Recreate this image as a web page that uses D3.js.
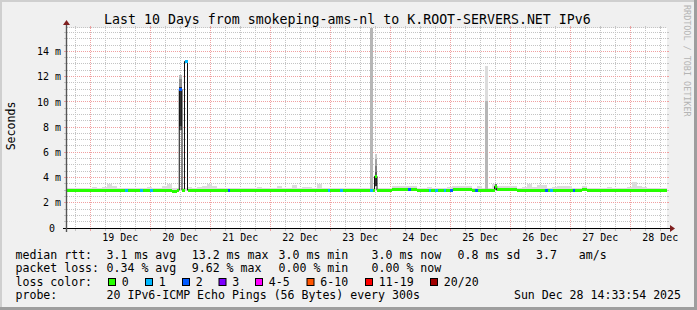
<!DOCTYPE html>
<html>
<head>
<meta charset="utf-8">
<script src="https://cdn.jsdelivr.net/npm/d3@7"></script>
<style>
  html, body { margin: 0; padding: 0; background: #f0f0f0; }
  svg { display: block; font-family: "DejaVu Sans Mono", monospace; }
</style>
</head>
<body>
<div id="chart"></div>
<script>
// smokeping style graph: last 10 days, median rtt coloured by packet loss
var startTime = Date.UTC(2025, 11, 18, 14, 33, 54);
var endTime   = Date.UTC(2025, 11, 28, 14, 33, 54);
var slotHours = 2;   // one value per 2 hours in the arrays below

// median rtt in ms, one per slot
var medianMs = [
  3.0, 3.0, 3.0, 3.0, 2.95, 2.95, 2.95, 2.95, 3.0, 3.0,
  3.0, 3.0, 3.0, 3.0, 3.0, 3.0, 3.0, 3.0, 2.95, 2.95,
  3.0, 2.9, 3.0, 3.0, 3.0, 3.0, 3.0, 3.0, 3.0, 3.0,
  3.0, 2.95, 3.0, 3.0, 3.0, 2.95, 2.95, 2.95, 3.0, 3.0,
  3.0, 3.0, 3.0, 3.0, 3.0, 3.0, 3.0, 3.0, 2.95, 2.95,
  3.0, 3.0, 3.0, 3.0, 3.0, 3.0, 3.0, 3.0, 2.95, 2.95,
  3.0, 3.0, 3.0, 3.0, 3.0, 3.08, 3.08, 3.08, 3.08, 3.08,
  3.0, 3.0, 3.0, 3.0, 3.0, 3.0, 3.0, 3.08, 3.08, 3.08,
  3.08, 3.0, 3.0, 3.0, 3.0, 3.0, 3.08, 3.08, 3.08, 3.08,
  3.0, 3.0, 3.0, 3.0, 3.0, 3.0, 3.0, 3.0, 3.0, 3.0,
  3.0, 3.0, 3.0, 3.08, 3.0, 3.0, 3.0, 3.0, 3.0, 3.0,
  3.0, 3.0, 3.0, 3.0, 3.0, 3.0, 3.0, 3.0, 3.0, 3.0
];

// slowest ping of each slot (top of the smoke), ms
var smokeTopMs = [
  3.2, 3.15, 3.15, 3.2, 3.2, 3.25, 3.2, 3.25, 3.5, 3.3,
  3.2, 3.15, 3.2, 3.2, 3.15, 3.2, 3.25, 3.2, 3.2, 3.3,
  3.45, 3.2, 3.2, 3.2, 3.25, 3.2, 3.25, 3.3, 3.5, 3.3,
  3.2, 3.15, 3.2, 3.15, 3.2, 3.15, 3.2, 3.2, 3.25, 3.2,
  3.15, 3.2, 3.3, 3.2, 3.2, 3.4, 3.2, 3.25, 3.25, 3.15,
  3.5, 3.2, 3.15, 3.2, 3.15, 3.2, 3.15, 3.2, 3.15, 3.2,
  3.2, 3.2, 3.15, 3.2, 3.2, 3.3, 3.3, 3.3, 3.3, 3.3,
  3.2, 3.2, 3.25, 3.2, 3.2, 3.2, 3.25, 3.3, 3.3, 3.3,
  3.3, 3.2, 3.3, 3.2, 3.2, 3.45, 3.3, 3.3, 3.3, 3.3,
  3.2, 3.25, 3.5, 3.25, 3.4, 3.4, 3.2, 3.25, 3.3, 3.3,
  3.3, 3.2, 3.2, 3.3, 3.2, 3.2, 3.2, 3.2, 3.25, 3.2,
  3.2, 3.2, 3.25, 3.65, 3.3, 3.25, 3.2, 3.2, 3.2, 3.2
];
var smokeBottomMs = 2.9;

// short periods with lost pings: [hour from start, duration h, lost of 20]
var lossEvents = [
  [23.2, 1.2, 1], [29.2, 1.2, 1], [33.2, 1.2, 1], [64.4, 0.9, 2],
  [104.4, 0.9, 1], [109.2, 1.2, 1], [136.4, 1.0, 2], [144.8, 0.9, 1],
  [147.2, 1.2, 1], [150.8, 0.9, 1], [153.2, 1.1, 2], [163.2, 1.1, 2],
  [191.2, 1.0, 2], [193.0, 1.2, 1], [202.3, 1.0, 2]
];

// spikes: smoke = [low ms, high ms, ping band 1 (outer) .. 10 (inner)]
var spikes = [
  {hour: 44.9, dur: 1.1, median: 11.0, loss: 2,
   smoke: [[7.8, 8.1, 7], [8.1, 11.2, 10], [11.2, 11.8, 5], [11.8, 12.15, 3]]},
  {hour: 47.0, dur: 1.2, median: 13.2, loss: 1, smoke: []},
  {hour: 121.2, dur: 1.2, median: 3.0, loss: 1, smoke: [[3.0, 20.0, 3]]},
  {hour: 123.0, dur: 1.0, median: 4.1, loss: 0,
   smoke: [[3.3, 4.1, 10], [4.1, 4.4, 8], [4.4, 4.9, 6], [4.9, 5.5, 4], [5.5, 5.85, 2]]},
  {hour: 167.2, dur: 1.2, median: 3.0, loss: 0, smoke: [[3.1, 10.05, 3], [10.05, 12.8, 1]]},
  {hour: 171.0, dur: 0.9, median: 3.3, loss: 0, smoke: [[3.05, 3.45, 7]]}
];

var lossLabels = ["0", "1", "2", "3", "4-5", "6-10", "11-19", "20/20"];
var lossColors = ["#26ff00", "#00b8ff", "#0059ff", "#7e00ff", "#ff00ff", "#ff5500", "#ff0000", "#a10000"];

var rttStats  = [["avg", 3.1], ["max", 13.2], ["min", 3.0], ["now", 3.0], ["sd", 0.8]];
var rttAmS    = 3.7;
var lossStats = [["avg", 0.34], ["max", 9.62], ["min", 0.00], ["now", 0.00]];

var title = "Last 10 Days from smokeping-ams-nl to K.ROOT-SERVERS.NET IPv6";
var probeText = "20 IPv6-ICMP Echo Pings (56 Bytes) every 300s";
var stampText = "Sun Dec 28 14:33:54 2025";

// ---- layout
var W = 697, H = 310;
var plotL = 67, plotR = 667, plotT = 28, plotB = 228;
var gridCol = "#c4c4c4", mgridCol = "#f0a0a0";

var x = d3.scaleUtc()
    .domain([new Date(startTime), new Date(endTime)])
    .range([plotL, plotR]);
var y = d3.scaleLinear()
    .domain([0, 15.85])
    .range([plotB, plotT]);

function hx(h) { return x(new Date(startTime + h * 3600e3)); }
function lossIndex(l) {
    if (l <= 3) return l;
    if (l <= 5) return 4;
    if (l <= 10) return 5;
    if (l <= 19) return 6;
    return 7;
}
function smokeColor(band) {
    var g = Math.round(220 - (band - 1) * 170 / 9);
    return d3.rgb(g, g, g).toString();
}
function crisp(v) { return Math.floor(v) + 0.5; }

var svg = d3.select("#chart").append("svg")
    .attr("width", W)
    .attr("height", H);

// font size that gives a wanted monospace advance (px per char)
var probe = svg.append("text").attr("font-size", 100).text("MMMMMMMMMM");
var emAdvance = probe.node().getComputedTextLength() / 1000;
probe.remove();
function fs(advance) { return advance / emAdvance; }

// background + 3d border
svg.append("rect").attr("width", W).attr("height", H).attr("fill", "#f0f0f0");
svg.append("rect").attr("width", W).attr("height", 2).attr("fill", "#cfcfcf");
svg.append("rect").attr("width", 2).attr("height", H).attr("fill", "#cfcfcf");
svg.append("rect").attr("y", H - 3).attr("width", W).attr("height", 3).attr("fill", "#9e9e9e");
svg.append("rect").attr("x", W - 3).attr("width", 3).attr("height", H).attr("fill", "#9e9e9e");

svg.append("rect")
    .attr("x", plotL).attr("y", plotT)
    .attr("width", plotR - plotL).attr("height", plotB - plotT)
    .attr("fill", "#fff");

// ---- grid
var yMajor = d3.range(2, 15, 2);
var yMinor = d3.range(0.5, 15.85, 0.5).filter(function(v) { return v % 2 !== 0; });
var xMajor = d3.utcDay.range(new Date(startTime), new Date(endTime));
var xMinor = d3.utcHour.every(6).range(new Date(startTime), new Date(endTime))
    .filter(function(d) { return d.getUTCHours() !== 0; });

var grid = svg.append("g").attr("fill", "none").attr("stroke-dasharray", "1,1");

function hLines(vals, col) {
    grid.selectAll(null).data(vals).enter().append("line")
        .attr("x1", plotL).attr("x2", plotR)
        .attr("y1", function(d) { return crisp(y(d)); })
        .attr("y2", function(d) { return crisp(y(d)); })
        .attr("stroke", col);
    svg.selectAll(null).data(vals).enter().append("path")
        .attr("d", function(d) {
            var yy = crisp(y(d));
            return "M" + (plotL - 3) + "," + yy + "H" + (plotL - 1) + "M" + plotR + "," + yy + "H" + (plotR + 2);
        })
        .attr("stroke", col);
}
function vLines(vals, col) {
    grid.selectAll(null).data(vals).enter().append("line")
        .attr("y1", plotT).attr("y2", plotB)
        .attr("x1", function(d) { return crisp(x(d)); })
        .attr("x2", function(d) { return crisp(x(d)); })
        .attr("stroke", col);
    svg.selectAll(null).data(vals).enter().append("path")
        .attr("d", function(d) {
            var xx = crisp(x(d));
            return "M" + xx + "," + (plotT - 2) + "V" + plotT + "M" + xx + "," + (plotB + 1) + "V" + (plotB + 3);
        })
        .attr("stroke", col);
}
hLines(yMinor, gridCol);
vLines(xMinor, gridCol);
hLines(yMajor, mgridCol);
vLines(xMajor, mgridCol);
grid.append("line").attr("x1", plotL).attr("x2", plotR)
    .attr("y1", plotT - 0.5).attr("y2", plotT - 0.5).attr("stroke", gridCol);

// ---- data
svg.append("clipPath").attr("id", "plotclip")
    .append("rect").attr("x", plotL).attr("y", plotT)
    .attr("width", plotR - plotL).attr("height", plotB - plotT);
var plot = svg.append("g").attr("clip-path", "url(#plotclip)");

// baseline smoke
plot.selectAll(null).data(smokeTopMs).enter().append("rect")
    .attr("x", function(d, i) { return hx(i * slotHours); })
    .attr("width", function(d, i) { return hx((i + 1) * slotHours) - hx(i * slotHours); })
    .attr("y", function(d) { return y(d); })
    .attr("height", function(d) { return y(smokeBottomMs) - y(d); })
    .attr("fill", smokeColor(1))
    .attr("shape-rendering", "crispEdges");

// spike smoke
spikes.forEach(function(s) {
    plot.selectAll(null).data(s.smoke).enter().append("rect")
        .attr("x", hx(s.hour))
        .attr("width", hx(s.hour + s.dur) - hx(s.hour))
        .attr("y", function(d) { return y(d[1]); })
        .attr("height", function(d) { return y(d[0]) - y(d[1]); })
        .attr("fill", function(d) { return smokeColor(d[2]); })
        .attr("shape-rendering", "crispEdges");
});

// median segments, overlaid by loss events and spikes
var segs = medianMs.map(function(m, i) {
    return {t0: i * slotHours, t1: (i + 1) * slotHours, med: m, loss: 0};
});
function overlay(list, ev) {
    var out = [];
    list.forEach(function(s) {
        if (s.t1 <= ev.t0 || s.t0 >= ev.t1) { out.push(s); return; }
        if (s.t0 < ev.t0) out.push({t0: s.t0, t1: ev.t0, med: s.med, loss: s.loss});
        if (s.t1 > ev.t1) out.push({t0: ev.t1, t1: s.t1, med: s.med, loss: s.loss});
    });
    out.push(ev);
    return out.sort(function(a, b) { return a.t0 - b.t0; });
}
lossEvents.forEach(function(e) {
    segs = overlay(segs, {t0: e[0], t1: e[0] + e[1],
        med: medianMs[Math.floor(e[0] / slotHours)], loss: e[2]});
});
spikes.forEach(function(s) {
    segs = overlay(segs, {t0: s.hour, t1: s.hour + s.dur, med: s.median, loss: s.loss});
});

var pts = segs.map(function(s) { return [s.t0, s.med]; });
pts.push([segs[segs.length - 1].t1, segs[segs.length - 1].med]);
var stepLine = d3.line()
    .x(function(d) { return hx(d[0]); })
    .y(function(d) { return y(d[1]); })
    .curve(d3.curveStepAfter);
plot.append("path")
    .attr("d", stepLine(pts))
    .attr("fill", "none")
    .attr("stroke", "#111")
    .attr("stroke-width", 1);

plot.selectAll(null).data(segs).enter().append("rect")
    .attr("x", function(d) { return hx(d.t0); })
    .attr("width", function(d) { return hx(d.t1) - hx(d.t0); })
    .attr("y", function(d) { return y(d.med) - 1.5; })
    .attr("height", 3)
    .attr("fill", function(d) { return lossColors[lossIndex(d.loss)]; })
    .attr("shape-rendering", "crispEdges");

// ---- axes
var axisFont = fs(6.0);
var yAxis = d3.axisLeft(y)
    .tickValues(d3.range(0, 15, 2))
    .tickFormat(function(d) { return d === 0 ? "0\u00a0" : d + "\u00a0m"; })
    .tickSize(0).tickPadding(0);
svg.append("g")
    .attr("transform", "translate(61,0)")
    .call(yAxis)
    .call(function(g) { g.select(".domain").remove(); })
    .attr("font-family", "DejaVu Sans Mono, monospace")
    .attr("font-size", axisFont)
    .selectAll("text").attr("fill", "#000");

var noons = xMajor.map(function(d) { return d3.utcHour.offset(d, 12); })
    .filter(function(d) { return d < endTime; });
var xAxis = d3.axisBottom(x)
    .tickValues(noons)
    .tickFormat(d3.utcFormat("%d %b"))
    .tickSize(0).tickPadding(6);
svg.append("g")
    .attr("transform", "translate(-0.8," + plotB + ")")
    .call(xAxis)
    .call(function(g) { g.select(".domain").remove(); })
    .attr("font-family", "DejaVu Sans Mono, monospace")
    .attr("font-size", axisFont)
    .selectAll("text").attr("fill", "#000");

// axis lines with arrows
svg.append("line")
    .attr("x1", plotL - 4).attr("x2", plotR + 4)
    .attr("y1", plotB + 0.5).attr("y2", plotB + 0.5)
    .attr("stroke", "#000");
svg.append("line")
    .attr("x1", plotL - 0.5).attr("x2", plotL - 0.5)
    .attr("y1", plotB + 4).attr("y2", plotT - 4)
    .attr("stroke", "#555").attr("stroke-width", 1.4);
svg.append("path")
    .attr("d", "M" + (plotR + 3) + "," + (plotB - 3) + "L" + (plotR + 8) + "," + (plotB + 0.5) +
               "L" + (plotR + 3) + "," + (plotB + 4) + "Z")
    .attr("fill", "#7f1f1f");
svg.append("path")
    .attr("d", "M" + (plotL - 4) + "," + (plotT - 3) + "L" + (plotL - 0.5) + "," + (plotT - 8) +
               "L" + (plotL + 3) + "," + (plotT - 3) + "Z")
    .attr("fill", "#7f1f1f");

// ---- texts
svg.append("text")
    .attr("x", 347.4).attr("y", 24)
    .attr("text-anchor", "middle")
    .attr("font-size", fs(7.98))
    .text(title);

var legFont = fs(6.97);
svg.append("text")
    .attr("transform", "translate(15,126)rotate(-90)")
    .attr("text-anchor", "middle")
    .attr("font-size", legFont)
    .text("Seconds");

svg.append("text")
    .attr("transform", "translate(684,5)rotate(90)")
    .attr("font-size", fs(5.08))
    .attr("fill", "#b4b4b4")
    .text("RRDTOOL / TOBI OETIKER");

var leg = svg.append("g").attr("font-size", legFont).attr("fill", "#000");
var rowY = [258.5, 272, 285.5, 299];
var colX = [106.6, 191.8, 278.6, 371.6, 457.6];

leg.append("text").attr("x", 15.5).attr("y", rowY[0]).text("median rtt:");
leg.selectAll(null).data(rttStats).enter().append("text")
    .attr("x", function(d, i) { return colX[i]; })
    .attr("y", rowY[0])
    .text(function(d) { return d[1].toFixed(1) + " ms " + d[0]; });
leg.append("text").attr("x", 536).attr("y", rowY[0]).text(rttAmS.toFixed(1));
leg.append("text").attr("x", 578.8).attr("y", rowY[0]).text("am/s");

leg.append("text").attr("x", 15.5).attr("y", rowY[1]).text("packet loss:");
leg.selectAll(null).data(lossStats).enter().append("text")
    .attr("x", function(d, i) { return colX[i]; })
    .attr("y", rowY[1])
    .text(function(d) { return d[1].toFixed(2) + " % " + d[0]; });

leg.append("text").attr("x", 15.5).attr("y", rowY[2]).text("loss color:");
var boxX = [108.5, 145.5, 182.5, 219, 255.5, 307, 365.5, 430.5];
var items = leg.selectAll(null).data(lossLabels).enter().append("g")
    .attr("transform", function(d, i) { return "translate(" + boxX[i] + "," + (rowY[2] - 7) + ")"; });
items.append("rect")
    .attr("width", 7).attr("height", 7)
    .attr("fill", function(d, i) { return lossColors[i]; })
    .attr("stroke", "#000");
items.append("text")
    .attr("x", 13.3).attr("y", 7)
    .text(function(d) { return d; });

leg.append("text").attr("x", 15.5).attr("y", rowY[3]).text("probe:");
leg.append("text").attr("x", 106.6).attr("y", rowY[3]).text(probeText);
leg.append("text").attr("x", 681).attr("y", rowY[3]).attr("text-anchor", "end").text(stampText);
</script>
</body>
</html>
